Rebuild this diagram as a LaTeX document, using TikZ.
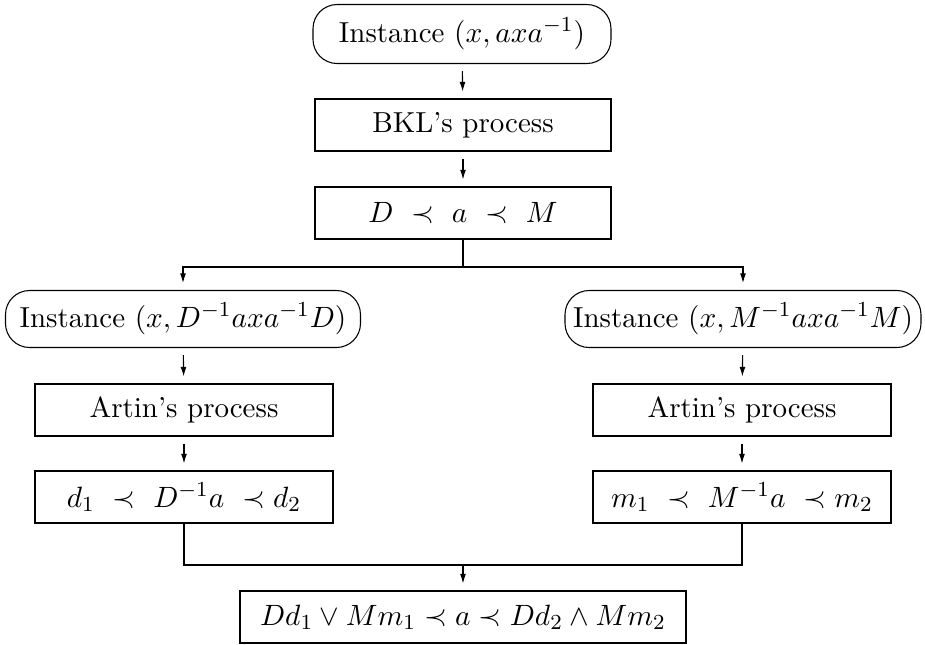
\documentclass[tikz,border=0pt]{standalone}
\usetikzlibrary{arrows.meta}
\newcommand\pu{0.373pt}
\begin{document}
\begin{tikzpicture}[x=\pu, y=-\pu,
  every node/.style={font=\fontsize{10.8pt}{13pt}\selectfont},
  box/.style={draw, minimum width=296*\pu, minimum height=52*\pu, inner sep=0pt},
  wbox/.style={box, minimum width=298*\pu},
  term/.style={draw, rounded corners=9pt, minimum height=57*\pu, inner sep=0pt},
  arr/.style={-{Latex[length=3.6pt,width=2.2pt]}, shorten <=2.6pt, shorten >=2.6pt}]
\useasboundingbox (0,0) rectangle (925,644);

% main column
\node[term, minimum width=298*\pu, minimum height=59*\pu] (top) at (462,34) {Instance $(x, axa^{-1})$};
\node[box] (bkl) at (463,125) {BKL's process};
\node[box] (dma) at (463,213) {$D\ \prec\ a\ \prec\ M$};

% left branch
\node[term, minimum width=355*\pu] (li) at (183,319) {Instance $(x, D^{-1}axa^{-1}D)$};
\node[wbox] (la) at (184,410) {Artin's process};
\node[wbox] (lr) at (184,497) {$d_1\ \prec\ D^{-1}a\ \prec d_2$};

% right branch
\node[term, minimum width=356*\pu] (ri) at (743,319) {Instance $(x, M^{-1}axa^{-1}M)$};
\node[wbox] (ra) at (742,410) {Artin's process};
\node[wbox] (rr) at (742,497) {$m_1\ \prec\ M^{-1}a\ \prec m_2$};

% result
\node[box, minimum width=446*\pu] (fin) at (463,617) {$Dd_1 \vee Mm_1 \prec a \prec Dd_2 \wedge Mm_2$};

\coordinate (split) at (463,267);
\coordinate (merge) at (463,565);

\draw[arr] (top) -- (bkl);
\draw[arr] (bkl) -- (dma);
\draw (dma) -- (split);
\draw[arr, shorten <=0pt] (split) -| (li);
\draw[arr, shorten <=0pt] (split) -| (ri);
\draw[arr] (li) -- (la);
\draw[arr] (la) -- (lr);
\draw[arr] (ri) -- (ra);
\draw[arr] (ra) -- (rr);
\draw (lr) |- (merge) -| (rr);
\draw[arr, shorten <=0pt] (merge) -- (fin);
\end{tikzpicture}
\end{document}
